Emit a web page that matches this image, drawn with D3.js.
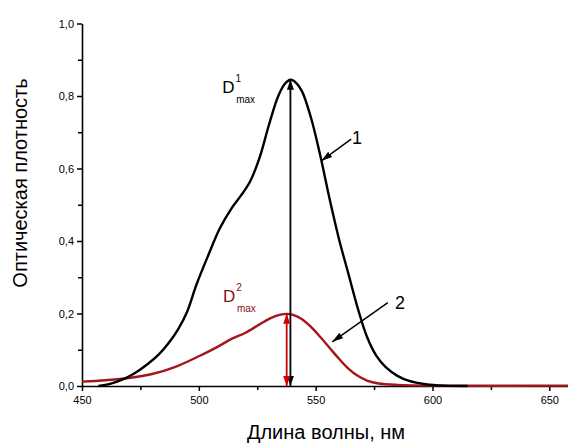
<!DOCTYPE html>
<html><head><meta charset="utf-8">
<script src="https://cdn.jsdelivr.net/npm/d3@7"></script>
<style>
body{margin:0;background:#fff;}
text{font-family:"Liberation Sans",Arial,sans-serif;}
</style></head>
<body><svg id="c" width="568" height="443"></svg>
<script>
// Data
const wl1 = [457, 462, 467, 472, 478, 483, 487, 491, 495, 499, 504, 509, 514, 518, 522, 526, 530, 534, 537, 539.2, 541, 544, 548, 552, 556, 560, 564, 568, 572, 576, 580, 585, 590, 597, 605, 615];
const od1 = [0.000, 0.006, 0.017, 0.033, 0.060, 0.088, 0.118, 0.155, 0.205, 0.280, 0.360, 0.435, 0.490, 0.525, 0.565, 0.630, 0.720, 0.800, 0.835, 0.845, 0.840, 0.815, 0.740, 0.635, 0.515, 0.405, 0.310, 0.215, 0.135, 0.083, 0.052, 0.028, 0.014, 0.005, 0.001, 0.000];
const wl2 = [450, 460, 470, 480, 490, 500, 508, 514, 520, 526, 531, 535, 537.6, 540, 544, 548, 552, 556, 560, 564, 568, 572, 577, 585, 600, 658];
const od2 = [0.012, 0.016, 0.022, 0.033, 0.053, 0.082, 0.108, 0.130, 0.147, 0.170, 0.188, 0.197, 0.199, 0.197, 0.185, 0.163, 0.135, 0.105, 0.075, 0.048, 0.028, 0.015, 0.007, 0.003, 0.001, 0.001];
const xTicks = [450, 500, 550, 600, 650];
const xMinor = [475, 525, 575, 625];
const yTicks = [0, 0.2, 0.4, 0.6, 0.8, 1.0];
const yMinor = [0.1, 0.3, 0.5, 0.7, 0.9];
const xDomain = [450, 658];
const yDomain = [0, 1];
const peak1 = {x: 539.2, y: 0.845};
const peak2 = {x: 537.6, y: 0.199};
const xLabel = "Длина волны, нм";
const yLabel = "Оптическая плотность";

const svg = d3.select("#c");
const x = d3.scaleLinear().domain(xDomain).range([82, 568]);
const y = d3.scaleLinear().domain(yDomain).range([386, 23.5]);
const fmt = d => d3.format(".1f")(d).replace(".", ",");

// markers
const defs = svg.append("defs");
function marker(id, color) {
  defs.append("marker").attr("id", id).attr("viewBox", "0 0 10 10")
    .attr("refX", 10).attr("refY", 5).attr("markerWidth", 10).attr("markerHeight", 10)
    .attr("markerUnits", "userSpaceOnUse").attr("orient", "auto-start-reverse")
    .append("path").attr("d", "M0,1.5 L10,5 L0,8.5 Z").attr("fill", color);
}
marker("ab", "#000");
marker("ar", "#d00000");
defs.append("marker").attr("id", "al").attr("viewBox", "0 0 10 10")
  .attr("refX", 10).attr("refY", 5).attr("markerWidth", 11).attr("markerHeight", 11)
  .attr("markerUnits", "userSpaceOnUse").attr("orient", "auto")
  .append("path").attr("d", "M0,2 L10,5 L0,8 Z").attr("fill", "#000");

// axes
const gx = svg.append("g").attr("transform", `translate(0,${y(0)})`)
  .call(d3.axisBottom(x).tickValues(xTicks).tickSize(5).tickSizeOuter(0).tickPadding(5));
gx.selectAll(".tick line").attr("stroke-width", 1.5);
gx.select(".domain").attr("stroke-width", 1.6);
gx.selectAll("text").attr("font-size", 11).attr("font-family", "Liberation Sans, Arial, sans-serif");
const gxm = svg.append("g").attr("transform", `translate(0,${y(0)})`)
  .call(d3.axisBottom(x).tickValues(xMinor).tickSize(4).tickFormat(""));
gxm.select(".domain").remove();
gxm.selectAll(".tick line").attr("stroke-width", 1.5);

const gy = svg.append("g").attr("transform", `translate(${x(450)},0)`)
  .call(d3.axisLeft(y).tickValues(yTicks).tickFormat(fmt).tickSize(5).tickSizeOuter(0).tickPadding(3));
gy.selectAll(".tick line").attr("stroke-width", 1.5);
gy.select(".domain").attr("stroke-width", 1.6);
gy.selectAll("text").attr("font-size", 11).attr("font-family", "Liberation Sans, Arial, sans-serif");
const gym = svg.append("g").attr("transform", `translate(${x(450)},0)`)
  .call(d3.axisLeft(y).tickValues(yMinor).tickSize(4).tickFormat(""));
gym.select(".domain").remove();
gym.selectAll(".tick line").attr("stroke-width", 1.5);

// curves
const line = d3.line().x(d => x(d[0])).y(d => y(d[1])).curve(d3.curveCatmullRom.alpha(0.5));
svg.append("path").datum(wl2.map((w, i) => [w, od2[i]]))
  .attr("d", line).attr("fill", "none").attr("stroke", "#a3161c").attr("stroke-width", 2.4);
svg.append("path").datum(wl1.map((w, i) => [w, od1[i]]))
  .attr("d", line).attr("fill", "none").attr("stroke", "#000").attr("stroke-width", 2.4);

// peak arrows
svg.append("line").attr("x1", x(peak1.x)).attr("x2", x(peak1.x))
  .attr("y1", y(0)).attr("y2", y(peak1.y))
  .attr("stroke", "#000").attr("stroke-width", 1.8)
  .attr("marker-start", "url(#ab)").attr("marker-end", "url(#ab)");
svg.append("line").attr("x1", x(peak2.x)).attr("x2", x(peak2.x))
  .attr("y1", y(0)).attr("y2", y(peak2.y))
  .attr("stroke", "#d00000").attr("stroke-width", 1.8)
  .attr("marker-start", "url(#ar)").attr("marker-end", "url(#ar)");

// D labels
function dlabel(lx, ly, sup, color) {
  const t = svg.append("text").attr("x", x(lx)).attr("y", y(ly)).attr("fill", color).attr("font-size", 17);
  t.append("tspan").text("D");
  t.append("tspan").attr("font-size", 10).attr("dy", -11).attr("dx", 1).text(sup);
  t.append("tspan").attr("font-size", 10).attr("x", x(lx) + 14).attr("dy", 21).text("max");
}
dlabel(510, 0.807, "1", "#000");
dlabel(510.3, 0.232, "2", "#8a1010");

// curve number labels with arrows
function numLabel(from, to, txt, tpos) {
  svg.append("line").attr("x1", x(from[0])).attr("y1", y(from[1]))
    .attr("x2", x(to[0])).attr("y2", y(to[1]))
    .attr("stroke", "#000").attr("stroke-width", 1.5).attr("marker-end", "url(#al)");
  svg.append("text").attr("x", x(tpos[0])).attr("y", y(tpos[1])).attr("font-size", 18).text(txt);
}
numLabel([565.2, 0.681], [552.4, 0.621], "1", [565.6, 0.668]);
numLabel([580.9, 0.230], [557.1, 0.122], "2", [584.0, 0.212]);

// axis titles
svg.append("text").attr("x", 326).attr("y", 439).attr("text-anchor", "middle")
  .attr("font-size", 20).text(xLabel);
svg.append("text").attr("transform", "translate(27,183) rotate(-90)").attr("text-anchor", "middle")
  .attr("font-size", 20).text(yLabel);
</script></body></html>
